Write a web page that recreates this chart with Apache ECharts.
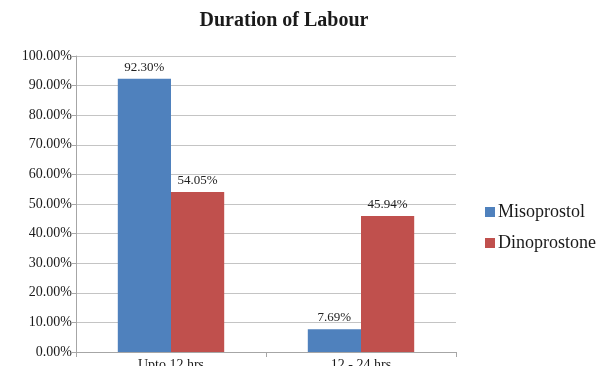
<!DOCTYPE html>
<html>
<head>
<meta charset="utf-8">
<script src="https://cdn.jsdelivr.net/npm/echarts@6/dist/echarts.min.js"></script>
<style>
  html, body { margin: 0; padding: 0; background: #fff; }
  #chart { width: 605px; height: 366px; }
</style>
</head>
<body>
<div id="chart"></div>
<script>
// Duration of labour by induction agent (percent of women)
const categories = ['Upto 12 hrs', '12 - 24 hrs'];
const misoprostol = [92.30, 7.69];
const dinoprostone = [54.05, 45.94];
const yTicks = [0, 10, 20, 30, 40, 50, 60, 70, 80, 90, 100];

const serif = '"Liberation Serif", "DejaVu Serif", serif';
const pct = v => v.toFixed(2) + '%';

const chart = echarts.init(document.getElementById('chart'), null, { renderer: 'canvas' });

const barLabel = {
  show: true,
  position: 'top',
  distance: 5,
  fontFamily: serif,
  fontSize: 13,
  color: '#222',
  formatter: p => pct(p.value)
};

chart.setOption({
  animation: false,
  backgroundColor: '#ffffff',
  title: {
    text: 'Duration of Labour',
    left: 279,
    textAlign: 'center',
    top: 6,
    textStyle: { fontFamily: serif, fontSize: 20, fontWeight: 'bold', color: '#1a1a1a' }
  },
  legend: {
    orient: 'vertical',
    left: 480,
    top: 198,
    itemWidth: 10,
    itemHeight: 10,
    itemGap: 13,
    icon: 'rect',
    textStyle: { fontFamily: serif, fontSize: 18, color: '#1a1a1a', padding: [0, 0, 0, -2] },
    data: ['Misoprostol', 'Dinoprostone']
  },
  grid: {
    left: 76, right: 149, top: 56, bottom: 14,
    containLabel: false,
    outerBoundsMode: 'none'
  },
  xAxis: {
    type: 'category',
    data: categories,
    axisLine: { lineStyle: { color: '#a6a6a6' } },
    axisTick: { show: true, length: 5, lineStyle: { color: '#a6a6a6' } },
    axisLabel: { fontFamily: serif, fontSize: 14, color: '#1a1a1a', margin: 6 }
  },
  yAxis: {
    type: 'value',
    min: yTicks[0],
    max: yTicks[yTicks.length - 1],
    interval: yTicks[1] - yTicks[0],
    axisLine: { show: true, lineStyle: { color: '#a6a6a6' } },
    axisTick: { show: true, length: 4, lineStyle: { color: '#a6a6a6' } },
    splitLine: { lineStyle: { color: '#c4c4c4' } },
    axisLabel: { fontFamily: serif, fontSize: 14, color: '#1a1a1a', margin: 4, formatter: v => pct(v) }
  },
  series: [
    {
      name: 'Misoprostol',
      type: 'bar',
      data: misoprostol,
      barGap: '0%',
      barCategoryGap: '44%',
      itemStyle: { color: '#4F81BD' },
      label: barLabel
    },
    {
      name: 'Dinoprostone',
      type: 'bar',
      data: dinoprostone,
      barGap: '0%',
      barCategoryGap: '44%',
      itemStyle: { color: '#C0504D' },
      label: barLabel
    }
  ]
});
</script>
</body>
</html>
